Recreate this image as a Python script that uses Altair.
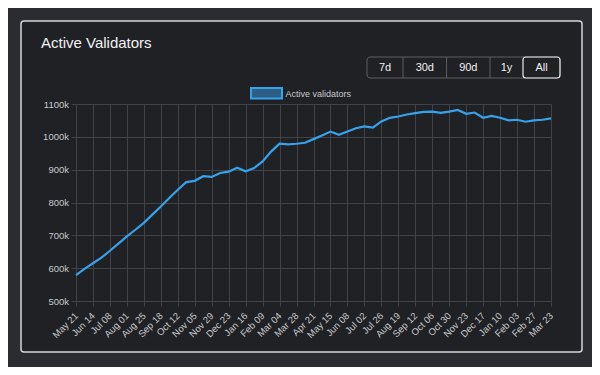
import altair as alt
import pandas as pd

# ---------------- data ----------------
start_date = "2023-05-21"
step_days = 12
validators_k = [
    579, 598, 615, 632, 653, 675, 697, 717, 738, 763,
    788, 814, 839, 862, 866, 880, 878, 890, 894, 906,
    895, 905, 925, 955, 979, 977, 979, 982, 993, 1004,
    1016, 1006, 1016, 1026, 1032, 1028, 1047, 1058, 1062, 1068,
    1072, 1076, 1077, 1073, 1077, 1082, 1070, 1074, 1058, 1064,
    1058, 1050, 1052, 1046, 1050, 1052, 1056,
]
tick_dates = [
    "2023-05-21", "2023-06-14", "2023-07-08", "2023-08-01", "2023-08-25",
    "2023-09-18", "2023-10-12", "2023-11-05", "2023-11-29", "2023-12-23",
    "2024-01-16", "2024-02-09", "2024-03-04", "2024-03-28", "2024-04-21",
    "2024-05-15", "2024-06-08", "2024-07-02", "2024-07-26", "2024-08-19",
    "2024-09-12", "2024-10-06", "2024-10-30", "2024-11-23", "2024-12-17",
    "2025-01-10", "2025-02-03", "2025-02-27", "2025-03-23",
]
y_ticks = [500000, 600000, 700000, 800000, 900000, 1000000, 1100000]
buttons = ["7d", "30d", "90d", "1y", "All"]
selected_button = "All"
series_name = "Active validators"
title_text = "Active Validators"

dates = pd.date_range(start_date, periods=len(validators_k), freq=f"{step_days}D")
df = pd.DataFrame({
    "date": dates.strftime("%Y-%m-%d"),
    "validators": [v * 1000 for v in validators_k],
})
tick_ms = [int(pd.Timestamp(d, tz="UTC").timestamp() * 1000) for d in tick_dates]

# ---------------- style ----------------
W, H = 475, 197
PAD = {"left": 68, "top": 96, "right": 41, "bottom": 66}
OUTER = "#2a2c31"
CARD = "#1f2125"
GRID = "#404247"
BLUE = "#36a2eb"
FONT = "Liberation Sans"
LABEL = "#c8c8c8"

one = pd.DataFrame({"_": [0]})


def rect(x, x2, y, y2, **kw):
    return alt.Chart(one).mark_rect(**kw).encode(
        x=alt.value(x), x2=alt.value(x2), y=alt.value(y), y2=alt.value(y2)
    )


def vrule(x, y, y2, **kw):
    return alt.Chart(one).mark_rule(**kw).encode(
        x=alt.value(x), y=alt.value(y), y2=alt.value(y2)
    )


def text(t, x, y, **kw):
    return alt.Chart(one).mark_text(font=FONT, **kw).encode(
        x=alt.value(x), y=alt.value(y), text=alt.value(t)
    )


# outer frame bands (plot coords; chart spans x -68..516, y -96..263)
bands = [
    rect(-68, 516, -96, -83, color=OUTER),
    rect(-68, 516, 248, 263, color=OUTER),
    rect(-68, -55, -96, 263, color=OUTER),
    rect(506, 516, -96, 263, color=OUTER),
]
card_border = rect(-55, 506, -83, 248, filled=False, stroke="#d6d6d6",
                   strokeWidth=1.5, cornerRadius=3)

title = text(title_text, -35, -56, fontSize=15, color="#f2f2f2",
             align="left", baseline="alphabetic")

# buttons
btn_widths = [36, 43.6, 43.4, 33, 37]
bx0 = 291
btn_layers = [rect(bx0, bx0 + sum(btn_widths), -47, -26, filled=False,
                   stroke="#5c5e63", strokeWidth=1, cornerRadius=3)]
cx = bx0
for lab, w in zip(buttons, btn_widths):
    if lab != buttons[0] and lab != selected_button:
        btn_layers.append(vrule(cx, -47, -26, color="#5c5e63", strokeWidth=1))
    if lab == selected_button:
        btn_layers.append(rect(cx, cx + w, -47, -26, filled=False, stroke="#e8e8e8",
                               strokeWidth=1.2, cornerRadius=3))
    btn_layers.append(text(lab, cx + w / 2, -36.5, fontSize=11, color="#f0f0f0",
                           align="center", baseline="middle"))
    cx += w

# legend
legend = [
    rect(175, 206, -16, -5.5, fill="#2d5e85", stroke=BLUE, strokeWidth=2),
    text(series_name, 209.5, -10.5, fontSize=9, color=LABEL,
         align="left", baseline="middle"),
]

line = alt.Chart(df).mark_line(color=BLUE, strokeWidth=2.2).encode(
    x=alt.X("date:T",
            scale=alt.Scale(type="utc", domain=[tick_ms[0], tick_ms[-1]]),
            axis=alt.Axis(values=tick_ms, format="%b %d", labelAngle=-45,
                          labelAlign="right", labelBaseline="middle",
                          labelFont=FONT, labelFontSize=9.5, labelColor=LABEL,
                          labelPadding=8, labelOverlap=False, tickColor=GRID,
                          tickSize=5, gridColor=GRID, gridWidth=1, domain=False,
                          title=None)),
    y=alt.Y("validators:Q",
            scale=alt.Scale(domain=[500000, 1100000], nice=False, zero=False),
            axis=alt.Axis(values=y_ticks, labelExpr="(datum.value/1000) + 'k'",
                          labelFont=FONT, labelFontSize=9.5, labelColor=LABEL,
                          labelPadding=2.5, tickColor=GRID, tickSize=5,
                          gridColor=GRID, gridWidth=1, domain=False, title=None)),
)

chart = alt.layer(*bands, card_border, title, *btn_layers, *legend, line).properties(
    width=W, height=H, padding=PAD, background=CARD,
    autosize=alt.AutoSizeParams(type="none"),
).configure_view(strokeWidth=0)

chart.save("out.html", embed_options={"renderer": "svg", "actions": False})
